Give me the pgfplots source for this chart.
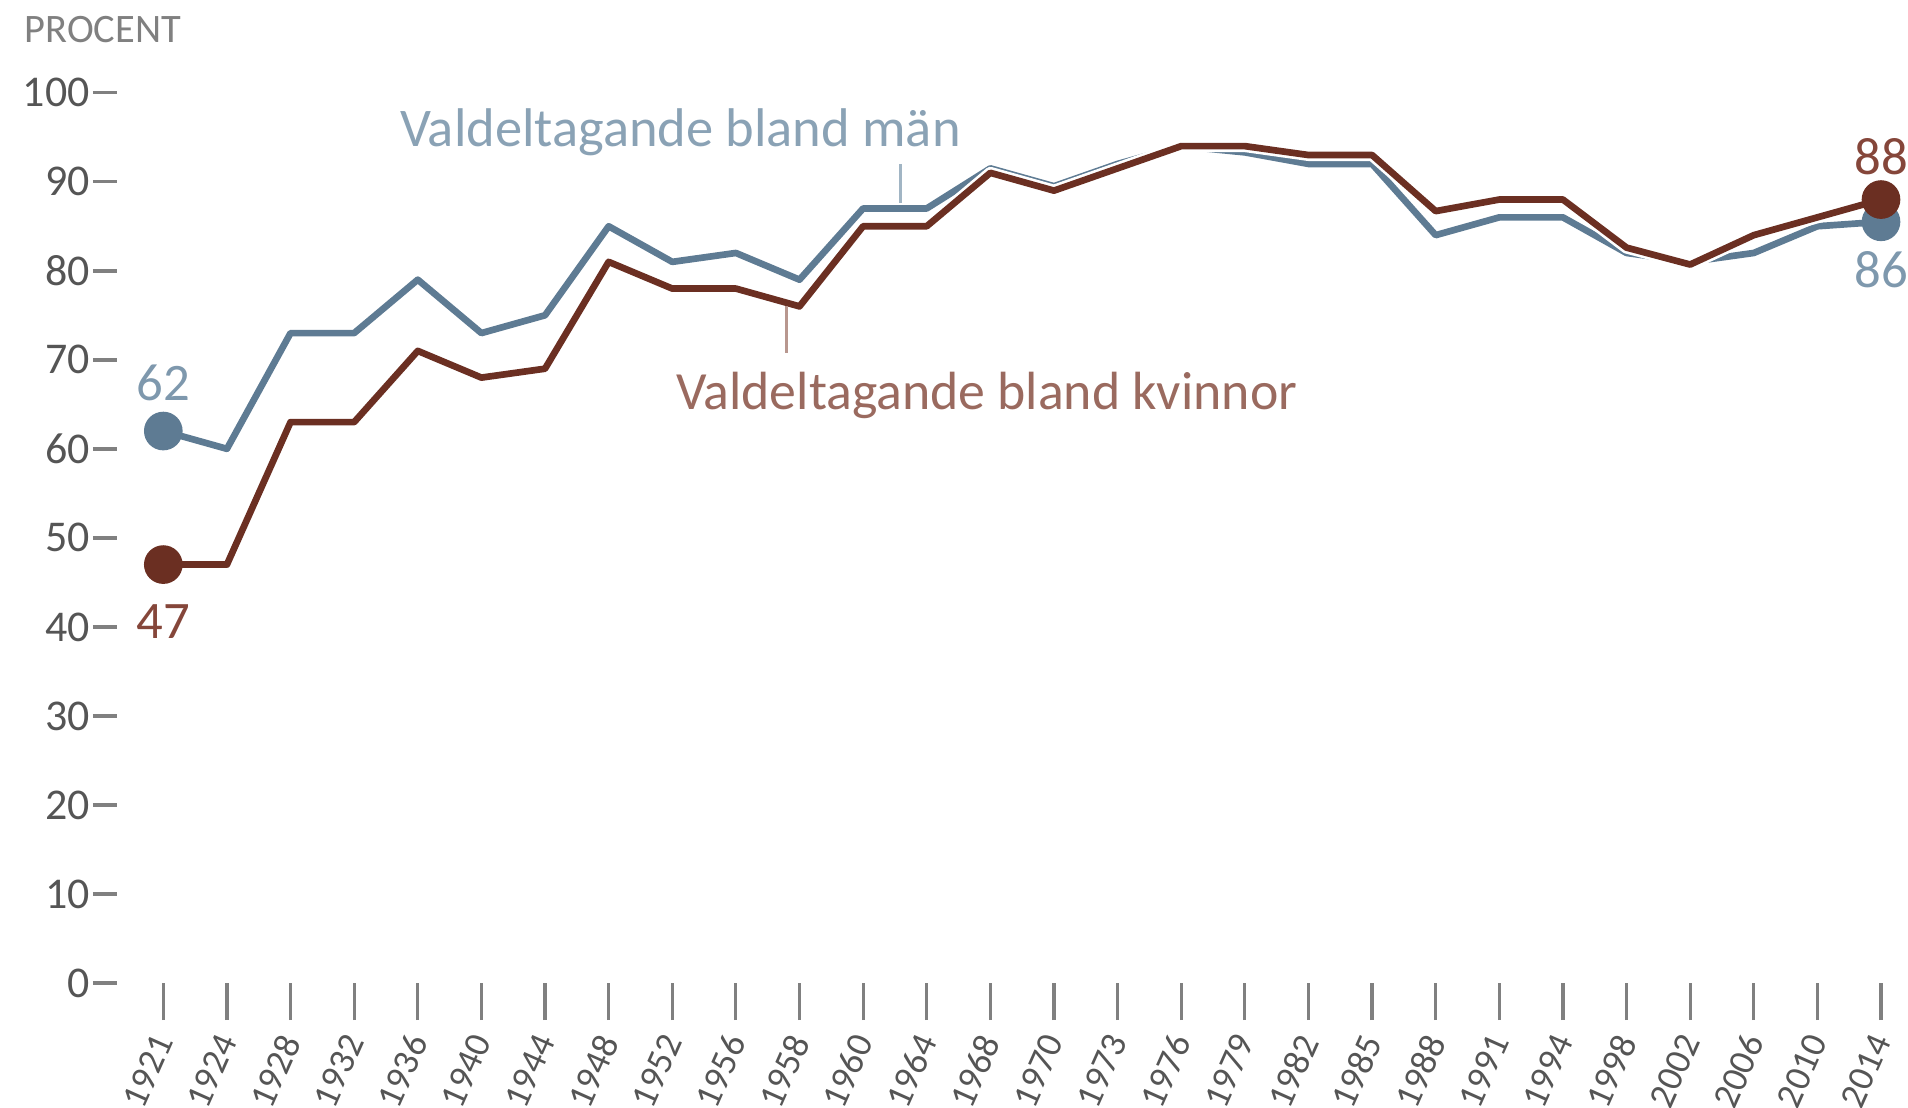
\documentclass[border=0pt]{standalone}
\usepackage{fontspec}
\setmainfont{Carlito}
\usepackage{pgfplots}
\pgfplotsset{compat=1.18}

\definecolor{menc}{HTML}{5E7B93}
\definecolor{womc}{HTML}{6B2F22}
\definecolor{menlab}{HTML}{8AA2B5}
\definecolor{womlab}{HTML}{9A6A5F}
\definecolor{mennum}{HTML}{7E98AD}
\definecolor{womnum}{HTML}{85463A}
\definecolor{tickc}{HTML}{808080}
\definecolor{labc}{HTML}{555555}

% index: 0=1921 ... 27=2014
\pgfplotstableread{
x men wom
0  62   47
1  60   47
2  73   63
3  73   63
4  79   71
5  73   68
6  75   69
7  85   81
8  81   78
9  82   78
10 79   76
11 87   85
12 87   85
13 91.5 91
14 89.5 89
15 92   91.5
16 94   94
17 93.3 94
18 92   93
19 92   93
20 84   86.7
21 86   88
22 86   88
23 82   82.6
24 81   80.7
25 82   84
26 85   86
27 85.5 88
}\turnout

\begin{document}
\begin{tikzpicture}
\useasboundingbox (-1.17,-1.24) rectangle (17.91,9.83);
\begin{axis}[
  scale only axis,
  width=17.78cm, height=8.903cm,
  xmin=-0.728, xmax=27.22,
  ymin=0, ymax=100,
  axis line style={draw=none},
  tick pos=left,
  tick align=outside,
  xtick={0,...,27},
  xticklabels={1921,1924,1928,1932,1936,1940,1944,1948,1952,1956,1958,1960,1964,1968,1970,1973,1976,1979,1982,1985,1988,1991,1994,1998,2002,2006,2010,2014},
  ytick={0,10,...,100},
  x tick style={draw=tickc, line width=0.9pt, /pgfplots/major tick length=0.37cm},
  y tick style={draw=tickc, line width=1pt, /pgfplots/major tick length=0.24cm},
  xticklabel style={yshift=-0.35cm, xshift=0.015cm, rotate=66, anchor=east, inner sep=1pt, font=\fontsize{10.5}{10.5}\selectfont, text=labc},
  yticklabel style={font=\fontsize{12.5}{12.5}\selectfont, text=labc},
  /pgf/number format/assume math mode=true,
  clip=false,
]
\addplot[menc, line width=1.9pt, line join=round] table[x=x, y=men] {\turnout};
\addplot[white, line width=3.4pt, line join=round] table[x=x, y=wom] {\turnout};
\addplot[womc, line width=1.9pt, line join=round] table[x=x, y=wom] {\turnout};

% end dots with their values
\addplot[only marks, mark=*, mark size=5.3pt, menc,
  nodes near coords, point meta=explicit symbolic,
  nodes near coords style={anchor=south, yshift=0.18cm, text=mennum, font=\fontsize{15}{15}\selectfont}]
  coordinates {(0,62) [62]};
\addplot[only marks, mark=*, mark size=5.3pt, menc,
  nodes near coords, point meta=explicit symbolic,
  nodes near coords style={anchor=north, yshift=-0.17cm, text=mennum, font=\fontsize{15}{15}\selectfont}]
  coordinates {(27,85.5) [86]};
\addplot[only marks, mark=*, mark size=5.3pt, womc,
  nodes near coords, point meta=explicit symbolic,
  nodes near coords style={anchor=north, yshift=-0.28cm, text=womnum, font=\fontsize{15}{15}\selectfont}]
  coordinates {(0,47) [47]};
\addplot[only marks, mark=*, mark size=5.3pt, womc,
  nodes near coords, point meta=explicit symbolic,
  nodes near coords style={anchor=south, yshift=0.12cm, text=womnum, font=\fontsize{15}{15}\selectfont}]
  coordinates {(27,88) [88]};

% series labels
\node[anchor=base west, inner sep=0pt, text=menlab, font=\fontsize{15.5}{15.5}\selectfont]
  at (axis cs:3.71,94) {Valdeltagande bland män};
\draw[menlab!80, line width=0.9pt] (axis cs:11.59,92) -- (axis cs:11.59,87.6);
\node[anchor=base west, inner sep=0pt, text=womlab, font=\fontsize{15.3}{15.3}\selectfont]
  at (axis cs:8.05,64.4) {Valdeltagande bland kvinnor};
\draw[womlab!70, line width=0.9pt] (axis cs:9.79,76) -- (axis cs:9.79,70.8);

\node[anchor=base west, inner sep=0pt, text=gray, font=\fontsize{11.5}{11.5}\selectfont]
  at (axis cs:-2.19,105.6) {PROCENT};
\end{axis}
\end{tikzpicture}
\end{document}
